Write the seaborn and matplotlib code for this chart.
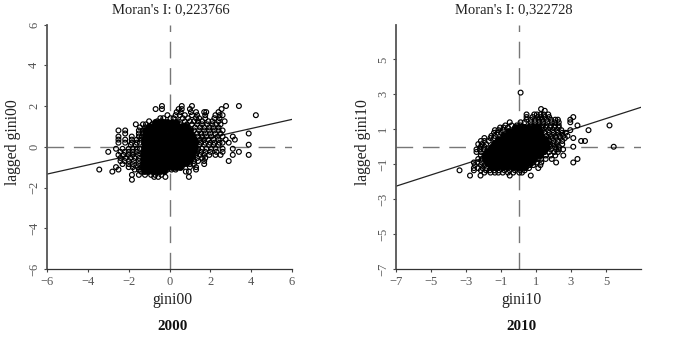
import matplotlib
matplotlib.use("Agg")
import matplotlib.pyplot as plt
import pandas as pd
import seaborn as sns

sns.set_style("ticks")
plt.rcParams["font.family"] = ["Liberation Serif", "DejaVu Serif"]

# Moran's I (slope of the fit) per year
moran_2000 = 0.223766
moran_2010 = 0.322728

# Points, row by row: lagged value -> values
sparse_2000 = {
    2.0: [-0.37, 0.6, 1.1, 2.77, 3.4],
    1.85: [-0.68, -0.37, 0.45, 0.6, 1.0, 2.55],
    1.7: [0.35, 0.55, 1.05, 1.3, 1.7, 1.8, 2.4],
    1.55: [-0.1, 0.3, 0.5, 0.75, 1.1, 1.35, 1.75, 2.25, 2.45, 2.6, 4.23],
    1.4: [-0.45, -0.3, 0.05, 0.2, 0.65, 0.9, 1.3, 1.45, 1.75, 2.2, 2.45],
    1.25: [-1.0, -0.6, -0.4, 0.4, 0.75, 1.0, 1.2, 1.4, 1.6, 1.9, 2.1, 2.4, 2.7],
    1.1: [-1.65, -1.3, -1.15, -0.85, -0.65, 0.55, 0.85, 1.1, 1.35, 1.6, 1.85, 2.1, 2.3, 2.5],
    0.95: [-1.45, -1.2, -1.0, -0.8, 0.65, 0.9, 1.25, 1.5, 1.7, 1.95, 2.15, 2.4],
    0.8: [-2.5, -2.17, -1.5, -1.3, -1.1, 0.8, 1.2, 1.45, 1.7, 1.95, 2.2, 2.4, 2.6],
    0.65: [-2.17, -1.5, -1.3, -1.15, 1.0, 1.35, 1.55, 1.75, 2.0, 2.25, 2.5, 3.88],
    0.5: [-2.5, -1.85, -1.5, -1.35, 1.15, 1.4, 1.6, 1.8, 2.05, 2.35, 2.6, 3.1],
    0.35: [-2.5, -2.17, -1.85, -1.6, -1.4, 1.25, 1.5, 1.7, 1.9, 2.15, 2.4, 2.75, 3.2],
    0.2: [-2.5, -2.17, -1.85, -1.6, -1.45, 1.3, 1.55, 1.75, 2.0, 2.2, 2.45, 2.6, 2.9],
    0.1: [-1.9, -1.65, 1.45, 1.7, 1.95, 2.15, 2.4, 3.88],
    -0.1: [-2.62, -2.3, -2.0, -1.8, -1.6, -1.45, 1.4, 1.6, 1.8, 2.05, 2.25, 2.6, 3.1],
    -0.25: [-3.0, -2.4, -2.2, -2.0, -1.8, -1.6, 1.35, 1.55, 1.75, 2.0, 2.3, 2.6, 3.4],
    -0.4: [-2.5, -2.25, -2.0, -1.8, -1.55, 1.3, 1.5, 1.7, 1.95, 2.25, 2.5, 3.1, 3.88],
    -0.55: [-2.4, -2.15, -1.9, -1.7, -1.5, 1.15, 1.35, 1.6, 1.75],
    -0.7: [-2.4, -2.2, -2.0, -1.75, -1.5, 1.0, 1.2, 1.4, 1.7, 2.9],
    -0.85: [-2.3, -2.0, -1.8, -1.5, 0.7, 1.0, 1.2, 1.7],
    -1.0: [-2.62, -2.0, -1.8, -1.55, -1.4, 0.4, 0.6, 1.0, 1.3],
    -1.12: [-3.44, -2.5, -1.7, -1.5, -0.1, 0.1, 0.3, 1.3],
    -1.22: [-2.8, 0.8, 0.95, -1.4, -1.1],
    -1.38: [-1.84, -1.5, -1.2, -0.9, -0.7, -0.4],
    -1.48: [-0.55, -0.2, 0.95, -0.75],
    -1.62: [-1.84],
}
dense_2000 = {
    1.2: [-0.7, -0.5, -0.3, -0.1, 0.1, 0.3],
    1.0: [-1.0, -0.8, -0.6, -0.4, -0.2, 0.0, 0.2, 0.4, 0.6, 0.8],
    0.8: [-1.2, -1.0, -0.8, -0.6, -0.4, -0.2, 0.0, 0.2, 0.4, 0.6, 0.8, 1.0],
    0.6: [-1.2, -1.05, -0.85, -0.65, -0.45, -0.25, -0.05, 0.15, 0.35, 0.55, 0.75, 0.95, 1.1],
    0.4: [-1.25, -1.05, -0.85, -0.65, -0.45, -0.25, -0.05, 0.15, 0.35, 0.55, 0.75, 0.95, 1.2],
    0.2: [-1.25, -1.05, -0.85, -0.65, -0.45, -0.25, -0.05, 0.15, 0.35, 0.55, 0.75, 0.95, 1.1, 1.25],
    0.0: [-1.25, -1.1, -0.9, -0.7, -0.5, -0.3, -0.1, 0.1, 0.3, 0.5, 0.7, 0.9, 1.1, 1.25],
    -0.2: [-1.3, -1.1, -0.9, -0.7, -0.5, -0.3, -0.1, 0.1, 0.3, 0.5, 0.7, 0.9, 1.1, 1.2],
    -0.4: [-1.3, -1.15, -1.0, -0.8, -0.6, -0.4, -0.2, 0.0, 0.2, 0.4, 0.6, 0.8, 1.0, 1.1],
    -0.6: [-1.3, -1.1, -0.9, -0.7, -0.5, -0.3, -0.1, 0.1, 0.3, 0.5, 0.7, 0.9, 1.0],
    -0.8: [-1.3, -1.15, -1.0, -0.8, -0.6, -0.4, -0.2, 0.0, 0.2, 0.4, 0.6, 0.8],
    -1.0: [-1.3, -1.1, -0.9, -0.7, -0.5, -0.3, -0.1, 0.1, 0.3, 0.5],
    -1.2: [-1.25, -1.05, -0.85, -0.65, -0.45, -0.25],
}
sparse_2010 = {
    3.1: [0.12],
    2.16: [1.29],
    2.06: [1.5],
    1.85: [0.46, 0.9, 1.05, 1.25, 1.45, 1.7],
    1.7: [0.46, 0.8, 1.1, 1.3, 1.5, 1.75, 3.13],
    1.55: [0.46, 0.7, 0.95, 1.15, 1.35, 1.6, 1.85, 2.1, 2.25, 2.96],
    1.4: [-0.5, 0.12, 0.35, 0.7, 0.95, 1.2, 1.4, 1.65, 1.9, 2.1, 2.3, 2.96],
    1.22: [-0.75, -0.4, -0.1, 0.1, 0.7, 0.95, 1.15, 1.4, 1.6, 1.85, 2.1, 2.3, 3.37, 5.2],
    1.1: [-1.05, -0.85, -0.6, 1.05, 1.3, 1.55, 1.8, 2.05, 2.3],
    0.95: [-1.35, -1.15, -0.9, 1.15, 1.4, 1.7, 1.95, 2.2, 2.45, 2.96, 4.0],
    0.8: [-1.4, -1.2, -1.0, 1.25, 1.5, 1.75, 2.0, 2.25, 2.5, 2.7],
    0.62: [-1.55, -1.35, 1.6, 1.85, 2.1, 2.35, 2.55, 2.8],
    0.5: [-1.95, -1.6, -1.4, 1.7, 1.95, 2.15, 2.4, 2.65, 3.13],
    0.33: [-2.15, -1.95, -1.7, 1.75, 2.0, 2.25, 2.5, 3.58, 3.8],
    0.15: [-2.3, -2.1, -1.85, 1.8, 2.0, 2.2, 2.5],
    0.0: [-2.15, -1.95, 1.8, 2.1, 2.3, 3.13, 5.44],
    -0.15: [-2.4, -2.2, -2.0, 1.6, 1.85, 2.15, 2.3, 2.55],
    -0.3: [-2.4, -2.15, 1.5, 1.75, 2.05, 2.25],
    -0.5: [-2.15, -1.95, 1.3, 1.55, 1.85, 2.1, 2.56],
    -0.7: [-2.3, -2.1, 1.1, 1.3, 1.55, 1.9, 3.37],
    -0.9: [-2.55, -2.35, -2.1, 0.85, 1.05, 1.3, 2.15, 3.13],
    -1.05: [-2.5, -2.15, -1.95, 0.65, 0.85, 1.25],
    -1.22: [-2.55, -2.3, -2.05, -1.85, 0.4, 0.6, 1.13],
    -1.35: [-3.37, -2.55, -2.15, -1.85, -1.65, -1.4, -1.1, -0.8, -0.5, -0.2, 0.1, 0.35],
    -1.48: [-1.95, -1.6, -1.35, -1.15, -0.9, -0.6, -0.3, 0.05, 0.2],
    -1.65: [-2.77, -2.17, -0.5, 0.7],
}
dense_2010 = {
    1.15: [-0.2, 0.05, 0.3, 0.55, 0.85, 1.1],
    0.92: [-0.6, -0.35, -0.1, 0.15, 0.4, 0.65, 0.95, 1.2],
    0.69: [-0.9, -0.65, -0.4, -0.15, 0.1, 0.35, 0.6, 0.85, 1.1, 1.3],
    0.46: [-1.2, -0.95, -0.7, -0.45, -0.2, 0.05, 0.3, 0.55, 0.8, 1.05, 1.3, 1.5],
    0.23: [-1.4, -1.15, -0.9, -0.65, -0.4, -0.15, 0.1, 0.35, 0.6, 0.85, 1.1, 1.35, 1.6],
    0.0: [-1.6, -1.35, -1.1, -0.85, -0.6, -0.35, -0.1, 0.15, 0.4, 0.65, 0.9, 1.15, 1.4, 1.6],
    -0.23: [-1.8, -1.55, -1.3, -1.05, -0.8, -0.55, -0.3, -0.05, 0.2, 0.45, 0.7, 0.95, 1.2, 1.4],
    -0.46: [-1.9, -1.7, -1.45, -1.2, -0.95, -0.7, -0.45, -0.2, 0.05, 0.3, 0.55, 0.8, 1.05, 1.2],
    -0.69: [-1.9, -1.6, -1.35, -1.1, -0.85, -0.6, -0.35, -0.1, 0.15, 0.4, 0.65, 0.9],
    -0.92: [-1.8, -1.55, -1.3, -1.05, -0.8, -0.55, -0.3, -0.05, 0.2, 0.45, 0.65],
    -1.15: [-1.6, -1.4, -1.15, -0.9, -0.65, -0.4, -0.15, 0.1, 0.35],
}

ticks_2000 = [-6, -4, -2, 0, 2, 4, 6]
ticks_2010 = [-7, -5, -3, -1, 1, 3, 5]
limits_2000 = (-6, 6)
limits_2010 = (-7, 7)


def frame(rows):
    return pd.DataFrame(
        [(x, y) for y, xs in rows.items() for x in xs], columns=["x", "lag"]
    )


W, H = 679, 358
fig = plt.figure(figsize=(W / 100, H / 100), dpi=100)


def panel(x0, rows_open, rows_dense, slope, ticks, lim, title, xlab, ylab, year,
          title_cx, xlab_cx, ylab_x):
    ax = fig.add_axes([x0 / W, (H - 269) / H, 245 / W, 244.5 / H])
    dash = (0, (12, 7))
    ax.axhline(0, color="#777777", lw=1.0, ls=dash, zorder=1)
    ax.axvline(0, color="#777777", lw=1.0, ls=dash, zorder=1)
    ax.axline((0, 0), slope=slope, color="#222222", lw=0.9, zorder=2)
    sns.scatterplot(data=frame(rows_dense), x="x", y="lag", ax=ax, s=19, marker="o",
                    facecolor="black", edgecolor="black", linewidth=0.6, zorder=4,
                    legend=False)
    sns.scatterplot(data=frame(rows_open), x="x", y="lag", ax=ax, s=12, marker="o",
                    facecolor="none", edgecolor="black", linewidth=0.85, zorder=3,
                    legend=False)
    ax.set_xlim(*lim)
    ax.set_ylim(*lim)
    ax.set_xticks(ticks)
    ax.set_yticks(ticks)
    ax.tick_params(axis="both", length=2.5, width=0.8, color="#444444",
                   labelcolor="#555555", labelsize=9, pad=2.5)
    plt.setp(ax.get_yticklabels(), rotation=90, va="center")
    sns.despine(ax=ax)
    ax.spines["left"].set_linewidth(1.3)
    ax.spines["left"].set_color("#555555")
    ax.spines["bottom"].set_linewidth(0.9)
    ax.spines["bottom"].set_color("#333333")
    ax.set_xlabel("")
    ax.set_ylabel("")
    fig.text(title_cx / W, (H - 9.5) / H, title, ha="center", va="center",
             fontsize=10.5, color="#222222")
    fig.text(xlab_cx / W, (H - 300) / H, xlab, ha="center", va="center",
             fontsize=11.3, color="#222222")
    fig.text(xlab_cx / W, (H - 327) / H, year, ha="center", va="center",
             fontsize=10.8, color="#111111", fontweight="bold")
    fig.text(ylab_x / W, (H - 142) / H, ylab, ha="center", va="center", rotation=90,
             fontsize=11.3, color="#222222")


panel(47, sparse_2000, dense_2000, moran_2000, ticks_2000, limits_2000,
      "Moran's I: 0,223766", "gini00", "lagged gini00", "2000", 171, 172.5, 13)
panel(396, sparse_2010, dense_2010, moran_2010, ticks_2010, limits_2010,
      "Moran's I: 0,322728", "gini10", "lagged gini10", "2010", 514, 521.5, 363)

fig.savefig("out.png", dpi=100, facecolor="white")
